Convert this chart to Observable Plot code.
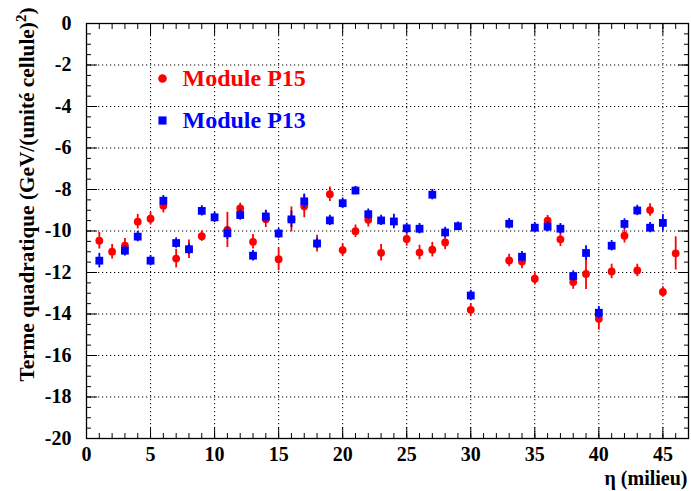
<!DOCTYPE html>
<html>
<head>
<meta charset="utf-8">
<script src="https://cdn.jsdelivr.net/npm/d3@7"></script>
<script src="https://cdn.jsdelivr.net/npm/@observablehq/plot@0.6"></script>
<style>
  html, body { margin: 0; padding: 0; background: #fff; }
  #chart svg { display: block; }
</style>
</head>
<body>
<div id="chart"></div>
<script>
// Module P15 (red circles)
const etaP15 = [1,2,3,4,5,6,7,8,9,11,12,13,14,15,16,17,18,19,20,21,22,23,25,26,27,28,30,33,34,35,36,37,38,39,40,41,42,43,44,45,46];
const valP15 = [-10.47,-11.0,-10.71,-9.55,-9.41,-8.78,-11.33,-10.88,-10.25,-9.95,-8.91,-10.52,-9.43,-11.36,-9.44,-8.81,-10.61,-8.23,-10.92,-10.01,-9.46,-11.05,-10.38,-11.04,-10.90,-10.55,-13.80,-11.42,-11.47,-12.30,-9.50,-10.40,-12.46,-12.07,-14.23,-11.95,-10.23,-11.90,-8.99,-12.94,-11.08];
const errP15 = [0.4,0.35,0.35,0.35,0.3,0.35,0.45,0.45,0.25,0.85,0.25,0.35,0.4,0.55,0.6,0.55,0.4,0.35,0.3,0.3,0.35,0.4,0.35,0.35,0.35,0.35,0.3,0.3,0.35,0.3,0.25,0.35,0.35,0.75,0.55,0.35,0.35,0.3,0.3,0.25,0.8];

// Module P13 (blue squares)
const etaP13 = [1,3,4,5,6,7,8,9,10,11,12,13,14,15,16,17,18,19,20,21,22,23,24,25,26,27,28,29,30,33,34,35,36,37,38,39,40,41,42,43,44,45];
const valP13 = [-11.43,-10.95,-10.27,-11.43,-8.54,-10.58,-10.88,-9.03,-9.34,-10.11,-9.23,-11.19,-9.30,-10.12,-9.44,-8.57,-10.60,-9.49,-8.66,-8.05,-9.19,-9.49,-9.54,-9.87,-9.89,-8.25,-10.07,-9.77,-13.11,-9.65,-11.24,-9.84,-9.79,-9.89,-12.17,-11.06,-13.94,-10.71,-9.66,-9.01,-9.84,-9.61];
const errP13 = [0.35,0.25,0.25,0.25,0.25,0.25,0.25,0.25,0.25,0.3,0.25,0.25,0.3,0.25,0.4,0.35,0.25,0.25,0.25,0.2,0.25,0.25,0.35,0.25,0.25,0.25,0.25,0.2,0.25,0.25,0.25,0.25,0.25,0.25,0.25,0.35,0.3,0.25,0.25,0.25,0.25,0.4];

// Axis ticks and labels
const xMajor = [0,5,10,15,20,25,30,35,40,45];
const xMinor = d3.range(0, 47, 1);
const yMajor = [0,-2,-4,-6,-8,-10,-12,-14,-16,-18,-20];
const yMinor = d3.range(-20, 0.01, 0.5);
const xGrid = [5,10,15,20,25,30,35,40,45];
const yGrid = [-2,-4,-6,-8,-10,-12,-14,-16,-18];

const legendLabels = ["Module P15", "Module P13"];
const yTitle = "Terme quadratique (GeV/(unité cellule)²)";
const xTitle = "η (milieu)";

const p15 = etaP15.map((x, i) => ({x, y: valP15[i], e: errP15[i]}));
const p13 = etaP13.map((x, i) => ({x, y: valP13[i], e: errP13[i]}));

const FONT = "Liberation Serif, Times New Roman, serif";
const dash = "1.2,2.8";

const plot = Plot.plot({
  width: 691,
  height: 491,
  marginLeft: 86,
  marginRight: 3,
  marginTop: 23,
  marginBottom: 53,
  style: {fontFamily: FONT, fontWeight: "bold", fontSize: "20px", background: "#fff", color: "black"},
  x: {domain: [0, 47]},
  y: {domain: [-20, 0]},
  marks: [
    Plot.gridX(xGrid, {stroke: "black", strokeOpacity: 1, strokeDasharray: dash, strokeWidth: 1}),
    Plot.gridY(yGrid, {stroke: "black", strokeOpacity: 1, strokeDasharray: dash, strokeWidth: 1}),
    // ticks (inward)
    Plot.axisX(xMajor, {anchor: "bottom", tickSize: -11, text: null, label: null, strokeWidth: 1}),
    Plot.axisX(xMinor, {anchor: "bottom", tickSize: -5, text: null, label: null, strokeWidth: 1}),
    Plot.axisX(xMajor, {anchor: "top", tickSize: -11, text: null, label: null, strokeWidth: 1}),
    Plot.axisX(xMinor, {anchor: "top", tickSize: -5, text: null, label: null, strokeWidth: 1}),
    Plot.axisY(yMajor, {anchor: "left", tickSize: -11, text: null, label: null, strokeWidth: 1}),
    Plot.axisY(yMinor, {anchor: "left", tickSize: -5, text: null, label: null, strokeWidth: 1}),
    Plot.axisY(yMajor, {anchor: "right", tickSize: -11, text: null, label: null, strokeWidth: 1}),
    Plot.axisY(yMinor, {anchor: "right", tickSize: -5, text: null, label: null, strokeWidth: 1}),
    // tick labels
    Plot.axisX(xMajor, {anchor: "bottom", tickSize: 0, tickPadding: 8, label: null, tickFormat: d => String(d), fontSize: 20, fontWeight: "bold"}),
    Plot.axisY(yMajor, {anchor: "left", tickSize: 0, tickPadding: 15, label: null, tickFormat: d => String(d), fontSize: 20, fontWeight: "bold"}),
    // error bars
    Plot.ruleX(p15, {x: "x", y1: d => d.y - d.e, y2: d => d.y + d.e, stroke: "#ff0000", strokeWidth: 1.8}),
    Plot.dot(p15, {x: "x", y: "y", r: 3.9, fill: "#ff0000", stroke: "none"}),
    Plot.ruleX(p13, {x: "x", y1: d => d.y - d.e, y2: d => d.y + d.e, stroke: "#0000ff", strokeWidth: 1.8}),
    Plot.dot(p13, {x: "x", y: "y", r: 4.4, symbol: "square", fill: "#0000ff", stroke: "none"}),
    Plot.frame({stroke: "black", strokeWidth: 1.3}),
    // legend
    Plot.dot([legendLabels[0]], {frameAnchor: "top-left", dx: 76, dy: 55, r: 4.3, fill: "#ff0000"}),
    Plot.text([legendLabels[0]], {frameAnchor: "top-left", dx: 96, dy: 55, text: d => d, textAnchor: "start", lineAnchor: "middle", fill: "#ff0000", fontSize: 24, fontWeight: "bold"}),
    Plot.dot([legendLabels[1]], {frameAnchor: "top-left", dx: 76, dy: 97, r: 4.6, symbol: "square", fill: "#0000ff"}),
    Plot.text([legendLabels[1]], {frameAnchor: "top-left", dx: 96, dy: 97, text: d => d, textAnchor: "start", lineAnchor: "middle", fill: "#0000ff", fontSize: 24, fontWeight: "bold"}),
    // axis titles
    Plot.text([yTitle], {frameAnchor: "top-left", dx: -59, dy: -16, text: d => d, rotate: -90, textAnchor: "end", lineAnchor: "middle", fontSize: 21.3, fontWeight: "bold", fill: "black"}),
    Plot.text([xTitle], {frameAnchor: "bottom-right", dx: -1, dy: 40, text: d => d, textAnchor: "end", lineAnchor: "middle", fontSize: 20, fontWeight: "bold", fill: "black"})
  ]
});
document.getElementById("chart").appendChild(plot);

// render the exponent as a real superscript, as in the reference
plot.querySelectorAll("text").forEach(t => {
  if (t.textContent === yTitle) {
    const parts = yTitle.split("²");
    t.textContent = "";
    const ns = "http://www.w3.org/2000/svg";
    const a = document.createElementNS(ns, "tspan"); a.textContent = parts[0];
    const s = document.createElementNS(ns, "tspan"); s.textContent = "2";
    s.setAttribute("font-size", "15"); s.setAttribute("dy", "-8");
    const b = document.createElementNS(ns, "tspan"); b.textContent = parts[1]; b.setAttribute("dy", "8");
    t.appendChild(a); t.appendChild(s); t.appendChild(b);
  }
});
</script>
</body>
</html>
